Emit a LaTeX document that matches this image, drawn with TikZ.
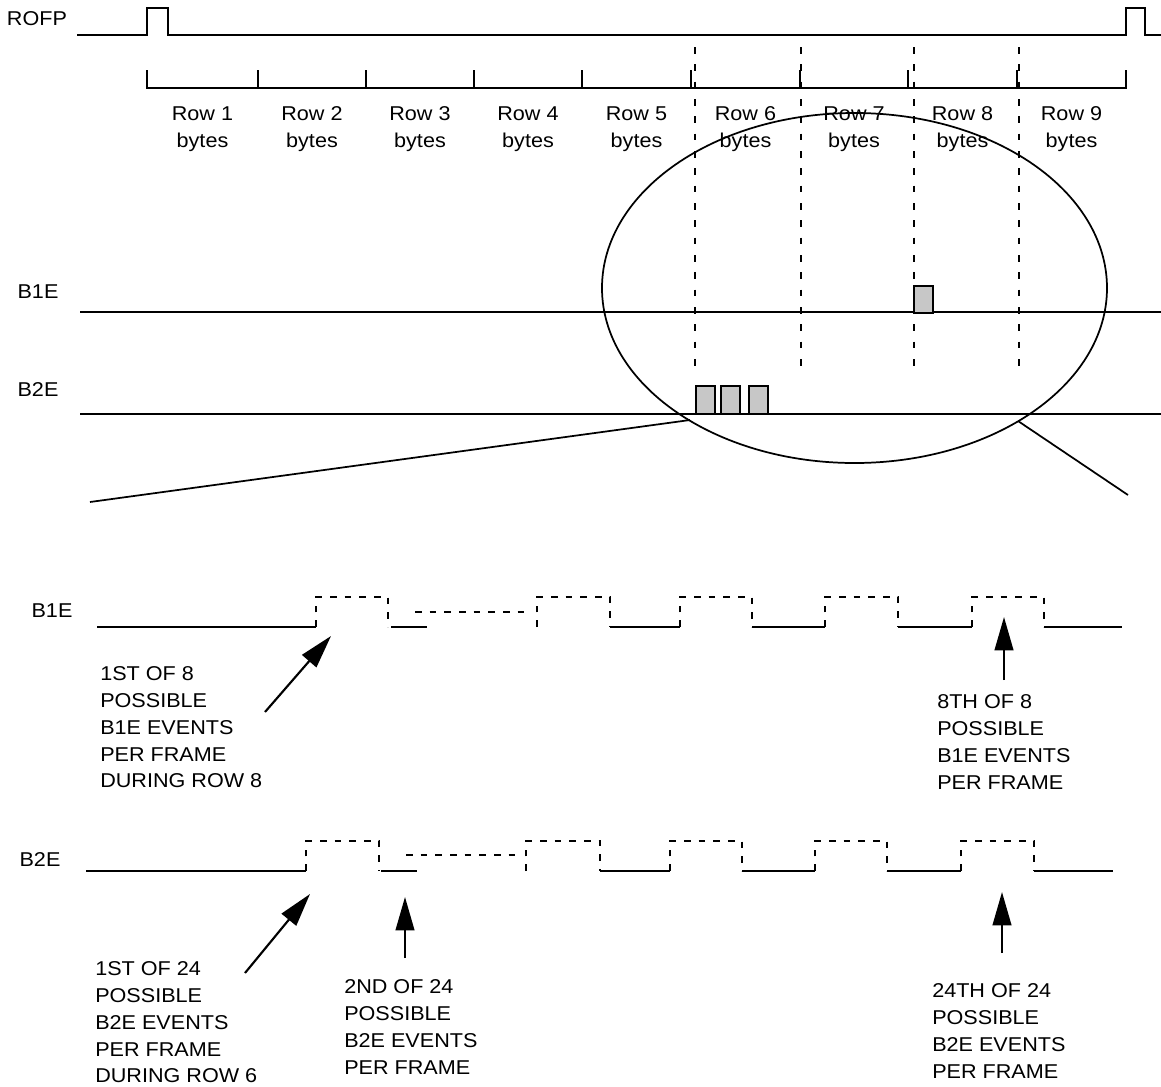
\documentclass[tikz,border=0pt]{standalone}
\usepackage{fontspec}
\setmainfont{Liberation Sans}[FakeStretch=1.08]
\usepackage{tikz}
\usetikzlibrary{positioning}
\usetikzlibrary{arrows.meta}

\begin{document}
\begin{tikzpicture}[x=0.75pt, y=-0.75pt, >={Triangle[length=25pt,width=14pt]},
  lbl/.style={font=\fontsize{15}{20.2}\selectfont, inner sep=0pt},
  note/.style={lbl, align=left, anchor=north west},
  sig/.style={line width=1.5pt},
  dsh/.style={line width=1.6pt, dash pattern=on 5pt off 6pt},
  evt/.style={draw, line width=1.4pt, fill=black!22},
  ptr/.style={->, line width=1.6pt}]
  \useasboundingbox (0,0) rectangle (1161,1086);

  % Frame pulse
  \node[lbl] (rofp) at (37,19) {ROFP};
  \draw[line width=1.2pt] (77,35) -- (147,35) -- (147,8) -- (168,8) -- (168,35)
    -- (1126,35) -- (1126,8) -- (1145,8) -- (1145,35) -- (1161,35);

  % Row bar with ticks and labels
  \draw[line width=2pt] (147,70) -- (147,88) -- (1126,88) -- (1126,70);
  \foreach \i/\xa/\xb in {1/147/258, 2/258/366, 3/366/474, 4/474/582, 5/582/691,
                          6/691/800, 7/800/908, 8/908/1017, 9/1017/1126} {
    \draw[line width=2pt] (\xb,70) -- (\xb,88);
    \node[lbl, align=center] (row\i) at ({(\xa+\xb)/2},129) {Row \i\\bytes};
  }

  % Row boundaries
  \foreach \x in {695,801,914,1019}
    \draw[line width=1.6pt, dash pattern=on 5pt off 8pt] (\x,47) -- (\x,370);

  % Zoom ellipse
  \draw[line width=1.3pt] (854.5,288) ellipse [x radius=252.5, y radius=175];
  \coordinate (zl) at (690,420);
  \coordinate (zr) at (1018,421);
  \draw[line width=1.3pt] (zl) -- (90,502);
  \draw[line width=1.3pt] (zr) -- (1128,495);

  % Byte lines
  \node[lbl] (b1e) at (38,292) {B1E};
  \node[lbl] (b2e) at (38,390) {B2E};
  \draw[sig] (80,312) -- (1161,312);
  \draw[sig] (80,414) -- (1161,414);
  \draw[evt] (914,286) rectangle (933,313);
  \foreach \xa in {696,721,749}
    \draw[evt] (\xa,386) rectangle ++(19,28);

  % B1E events
  \node[lbl] (w1) at (52,611) {B1E};
  \draw[sig] (97,627) -- (316,627);
  \foreach \xa/\xb in {391/427, 610/680, 752/825, 898/972, 1044/1122}
    \draw[sig] (\xa,627) -- (\xb,627);
  \foreach \xa/\xb in {316/388, 537/610, 680/752, 825/898, 972/1044}
    \draw[dsh] (\xa,627) -- (\xa,597) -- (\xb,597) -- (\xb,627);
  \draw[dsh] (415,612) -- (526,612);

  % B2E events
  \node[lbl] (w2) at (40,860) {B2E};
  \draw[sig] (86,871) -- (306,871);
  \foreach \xa/\xb in {381/417, 600/670, 742/815, 887/961, 1034/1113}
    \draw[sig] (\xa,871) -- (\xb,871);
  \foreach \xa/\xb in {306/379, 526/600, 670/742, 815/887, 961/1034}
    \draw[dsh] (\xa,871) -- (\xa,841) -- (\xb,841) -- (\xb,871);
  \draw[dsh] (406,855) -- (516,855);

  % Notes and pointers
  \node[note] (n1) at (100,666) {1ST OF 8\\POSSIBLE\\B1E EVENTS\\PER FRAME\\DURING ROW 8};
  \node[note] (n2) at (937,694) {8TH OF 8\\POSSIBLE\\B1E EVENTS\\PER FRAME};
  \node[note] (n3) at (95,961) {1ST OF 24\\POSSIBLE\\B2E EVENTS\\PER FRAME\\DURING ROW 6};
  \node[note] (n4) at (344,979) {2ND OF 24\\POSSIBLE\\B2E EVENTS\\PER FRAME};
  \node[note] (n5) at (932,983) {24TH OF 24\\POSSIBLE\\B2E EVENTS\\PER FRAME};

  \coordinate (t1) at (331,636);
  \coordinate (t2) at (1004,617);
  \coordinate (t3) at (310,894);
  \coordinate (t4) at (405,897);
  \coordinate (t5) at (1002,892);
  \draw[ptr] (265,712) -- (t1);
  \draw[ptr] (t2 |- 0,680) -- (t2);
  \draw[ptr] (245,973) -- (t3);
  \draw[ptr] (t4 |- 0,958) -- (t4);
  \draw[ptr] (t5 |- 0,953) -- (t5);
\end{tikzpicture}
\end{document}
